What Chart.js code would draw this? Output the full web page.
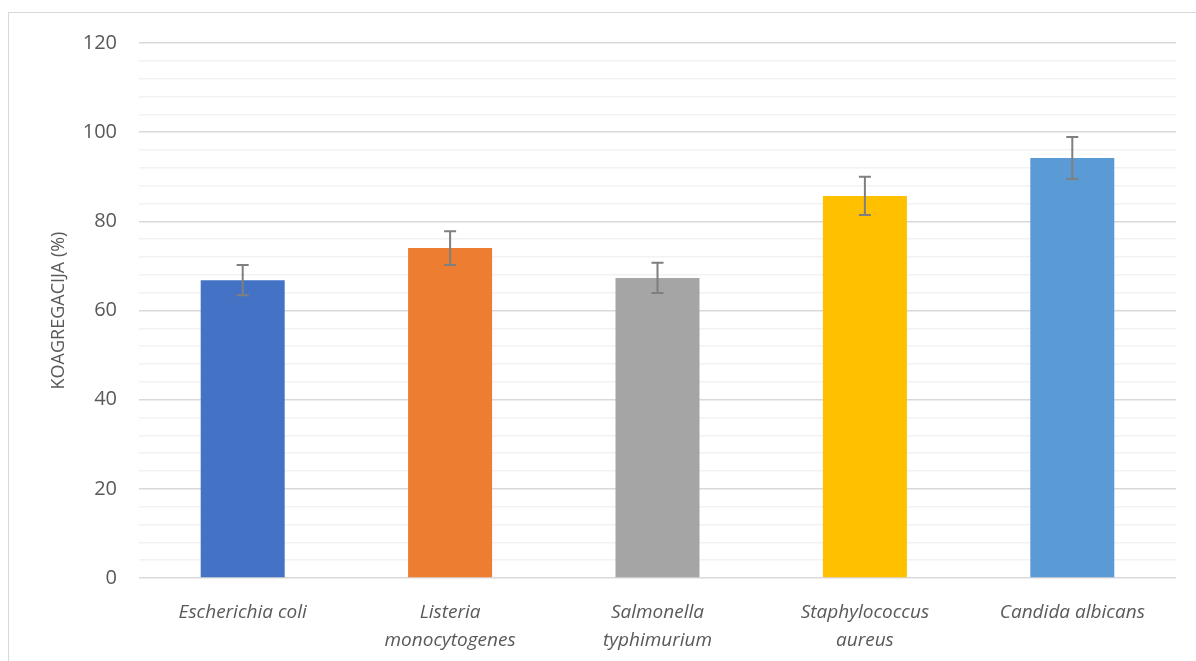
<!DOCTYPE html>
<html>
<head>
<meta charset="utf-8">
<script src="https://cdn.jsdelivr.net/npm/chart.js@4"></script>
<style>
  html, body { margin: 0; padding: 0; background: #fff; }
  #wrap { position: relative; width: 1196px; height: 661px; overflow: hidden; }
  #frame { position: absolute; left: 8px; top: 12px; width: 1300px; height: 800px;
           border-left: 1px solid #d9d9d9; border-top: 1px solid #d9d9d9; }
  canvas { position: absolute; left: 0; top: 0; }
</style>
</head>
<body>
<div id="wrap">
  <div id="frame"></div>
  <canvas id="chart" width="1196" height="661"></canvas>
</div>
<script>
// podaci
const categories = [
  'Escherichia coli',
  ['Listeria', 'monocytogenes'],
  ['Salmonella', 'typhimurium'],
  ['Staphylococcus', 'aureus'],
  'Candida albicans'
];
const values = [66.8, 74.0, 67.3, 85.7, 94.2];
const errors = [3.4, 3.8, 3.4, 4.3, 4.7];
const barColors = ['#4472c4', '#ed7d31', '#a5a5a5', '#ffc000', '#5b9bd5'];
const yTicks = [0, 20, 40, 60, 80, 100, 120];

// error bars drawn from the y scale
const errorBarPlugin = {
  id: 'errorBars',
  afterDatasetsDraw(chart) {
    const ctx = chart.ctx;
    const y = chart.scales.y;
    const meta = chart.getDatasetMeta(0);
    ctx.save();
    ctx.strokeStyle = '#7f7f7f';
    ctx.lineWidth = 2;
    meta.data.forEach((bar, i) => {
      const top = y.getPixelForValue(values[i] + errors[i]);
      const bot = y.getPixelForValue(values[i] - errors[i]);
      const x = bar.x;
      ctx.beginPath();
      ctx.moveTo(x, top); ctx.lineTo(x, bot);
      ctx.moveTo(x - 6, top); ctx.lineTo(x + 6, top);
      ctx.moveTo(x - 6, bot); ctx.lineTo(x + 6, bot);
      ctx.stroke();
    });
    ctx.restore();
  }
};

new Chart(document.getElementById('chart'), {
  type: 'bar',
  data: {
    labels: categories,
    datasets: [{
      data: values,
      backgroundColor: barColors,
      barPercentage: 0.405,
      categoryPercentage: 1.0
    }]
  },
  options: {
    responsive: false,
    animation: false,
    layout: { padding: { left: 0, right: 20, top: 43, bottom: 0 } },
    plugins: { legend: { display: false }, tooltip: { enabled: false } },
    scales: {
      x: {
        grid: { display: false },
        border: { display: false },
        ticks: {
          color: '#595959',
          padding: 12,
          font: { family: 'Open Sans', size: 19, style: 'italic', lineHeight: 1.5 },
          maxRotation: 0,
          autoSkip: false
        },
        afterFit(scale) { scale.height = 83; }
      },
      y: {
        min: 0,
        max: 120,
        border: { display: false },
        grid: {
          color: ctx => (ctx.tick && ctx.tick.value % 20 === 0) ? '#d9d9d9' : '#f2f2f2',
          lineWidth: 1.5,
          drawTicks: false
        },
        ticks: {
          stepSize: 4,
          autoSkip: false,
          color: '#595959',
          padding: 22,
          font: { family: 'Open Sans', size: 20 },
          callback: v => yTicks.includes(v) ? v : ''
        },
        title: {
          display: true,
          text: 'KOAGREGACIJA (%)',
          color: '#595959',
          font: { family: 'Open Sans', size: 18 },
          padding: { top: 48, bottom: 0 }
        },
        afterFit(scale) { scale.width = 139; }
      }
    }
  },
  plugins: [errorBarPlugin]
});
</script>
</body>
</html>
